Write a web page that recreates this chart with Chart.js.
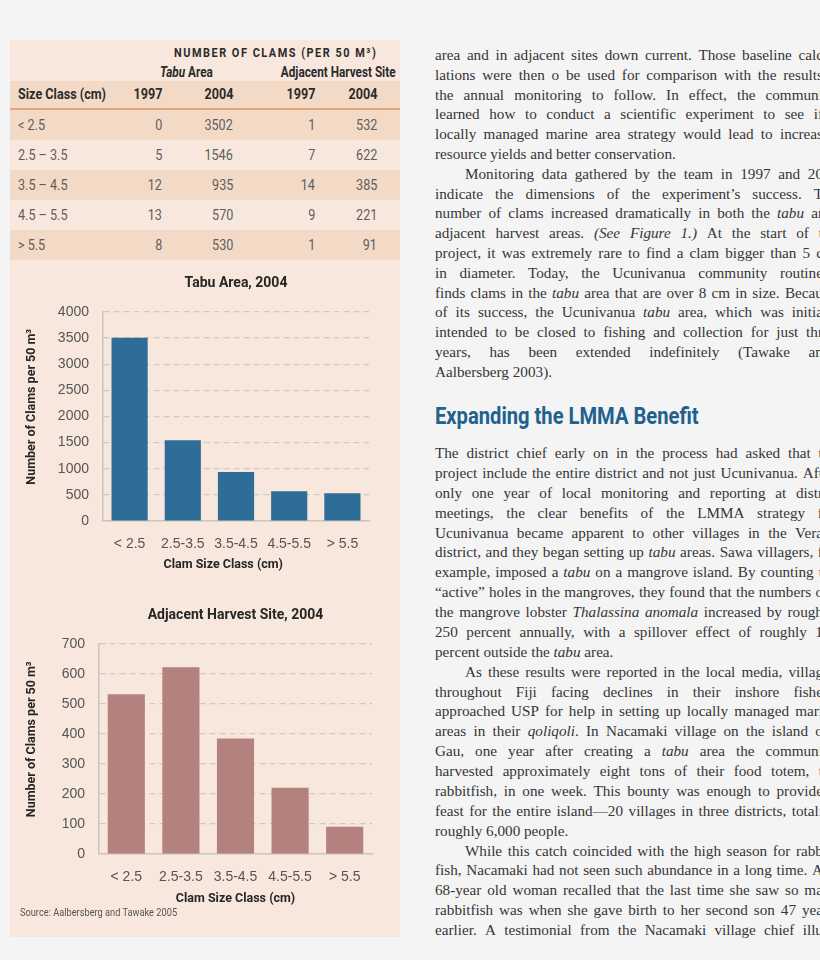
<!DOCTYPE html>
<html lang="en">
<head>
  <meta charset="UTF-8" />
  <title>Number of Clams (per 50 m³)</title>
  <script src="https://cdn.jsdelivr.net/npm/chart.js"></script>
  <style>
    :root {
      --panel: #f8e7dc;
      --band: #f3dac7;
    }
    * { margin: 0; padding: 0; box-sizing: border-box; }
    body {
      width: 820px;
      height: 960px;
      overflow: hidden;
      position: relative;
      background: #f4f4f4;
      font-family: Roboto, "Liberation Sans", sans-serif;
    }
    .panel {
      position: absolute;
      left: 10px; top: 40px;
      width: 390px; height: 897px;
      background: var(--panel);
    }
    /* no condensed face installed, squeeze the text instead */
    .c { display: inline-block; transform: scaleX(0.84); white-space: nowrap; }
    .abs { position: absolute; white-space: nowrap; }
    .ttl {
      font-weight: bold;
      color: #2b2b2b;
      font-size: 13px;
      letter-spacing: 1.8px;
    }
    .sub { font-weight: bold; color: #2b2b2b; font-size: 14px; }
    .band { position: absolute; left: 0; width: 390px; }
    .cell {
      position: absolute;
      font-size: 15px;
      color: #5e5e5e;
      line-height: 30px;
      white-space: nowrap;
    }
    .hd { font-weight: bold; color: #2b2b2b; font-size: 15px; line-height: 27px; }
    .chartbox { position: absolute; left: 10px; width: 390px; }
    .source {
      position: absolute; left: 20px; top: 906px;
      font-size: 11px; color: #555;
    }
    .col {
      position: absolute;
      left: 435px;
      width: 388px;
      font-family: "Liberation Serif", "DejaVu Serif", serif;
      font-size: 15.2px;
      color: #363636;
    }
    .ln { display: flex; justify-content: space-between; gap: 0.22em; white-space: nowrap; }
    .ln.last { justify-content: flex-start; gap: 0.25em; }
    .ln.ind { padding-left: 30px; }
    h2 {
      position: absolute;
      left: 435px; top: 402px;
      font-size: 24px;
      color: #22608d;
      white-space: nowrap;
    }
  </style>
</head>
<body>
  <div class="panel" id="panel">
    <div class="abs ttl" style="left:164px; top:5px;"><span class="c" style="transform-origin:left">NUMBER OF CLAMS (PER 50 M³)</span></div>
    <div class="abs sub" style="left:150px; top:24px;"><span class="c" style="transform-origin:left"><i>Tabu</i> Area</span></div>
    <div class="abs sub" style="right:4px; top:24px;"><span class="c" style="transform-origin:right">Adjacent Harvest Site</span></div>
    <div id="table"></div>
  </div>

  <div class="chartbox" style="top:265px; height:320px;"><canvas id="chartTabu"></canvas></div>
  <div class="chartbox" style="top:597px; height:321px;"><canvas id="chartAdj"></canvas></div>
  <div class="source"><span class="c" style="transform-origin:left">Source: Aalbersberg and Tawake 2005</span></div>

  <div class="col" id="text1" style="top:45px; line-height:19.8px;"></div>
  <h2><span class="c" style="transform-origin:left">Expanding the LMMA Benefit</span></h2>
  <div class="col" id="text2" style="top:443px; line-height:19.875px;"></div>

  <script>
    // table + chart data
    const tableClasses = ['< 2.5', '2.5 – 3.5', '3.5 – 4.5', '4.5 – 5.5', '> 5.5'];
    const chartClasses = ['< 2.5', '2.5-3.5', '3.5-4.5', '4.5-5.5', '> 5.5'];
    const tabu1997 = [0, 5, 12, 13, 8];
    const tabu2004 = [3502, 1546, 935, 570, 530];
    const adj1997 = [1, 7, 14, 9, 1];
    const adj2004 = [532, 622, 385, 221, 91];

    const tabuMax = 4000, tabuStep = 500;
    const adjMax = 700, adjStep = 100;

    // ---- table ----
    const table = document.getElementById('table');
    const colRight = [152, 223, 305, 367];
    const sq = (t, o) => `<span class="c" style="transform-origin:${o}">${t}</span>`;
    let html = '<div class="band" style="top:41px;height:27px;background:var(--band)"></div>';
    html += '<div class="band" style="top:68px;height:2px;background:#e7a678"></div>';
    html += `<div class="cell hd" style="left:8px;top:41px">${sq('Size Class (cm)', 'left')}</div>`;
    ['1997', '2004', '1997', '2004'].forEach((h, j) => {
      html += `<div class="cell hd" style="right:${390 - colRight[j]}px;top:41px">${sq(h, 'right')}</div>`;
    });
    tableClasses.forEach((c, i) => {
      const top = 70 + i * 30;
      if (i % 2 === 0) html += `<div class="band" style="top:${top}px;height:30px;background:var(--band)"></div>`;
      html += `<div class="cell" style="left:8px;top:${top}px">${sq(c.replace('<', '&lt;'), 'left')}</div>`;
      [tabu1997[i], tabu2004[i], adj1997[i], adj2004[i]].forEach((v, j) => {
        html += `<div class="cell" style="right:${390 - colRight[j]}px;top:${top}px">${sq(v, 'right')}</div>`;
      });
    });
    table.innerHTML = html;

    // ---- charts ----
    const BOLD = 'Roboto, "Liberation Sans", sans-serif';
    const SANS = '"Liberation Sans", Arial, sans-serif';

    function barChart(id, title, values, max, step, color, axisW, padRight, xTitle, xTitlePad) {
      return new Chart(document.getElementById(id), {
        type: 'bar',
        data: {
          labels: chartClasses,
          datasets: [{
            data: values,
            backgroundColor: color,
            borderWidth: 0,
            barPercentage: 0.68,
            categoryPercentage: 1.0
          }]
        },
        options: {
          responsive: true,
          maintainAspectRatio: false,
          animation: false,
          layout: { padding: { left: 0, right: padRight, top: 0, bottom: 0 } },
          plugins: {
            legend: { display: false },
            tooltip: { enabled: false },
            title: {
              display: true,
              fullSize: false,
              text: title,
              color: '#262626',
              font: { family: BOLD, size: 14, weight: 'bold' },
              padding: { top: 10, bottom: 20 }
            }
          },
          scales: {
            x: {
              grid: { display: false },
              border: { display: true, color: '#c9c4bf', width: 1.5 },
              ticks: { color: '#555', font: { family: SANS, size: 14 }, padding: 7, maxRotation: 0 },
              title: {
                display: true,
                text: xTitle,
                color: '#262626',
                font: { family: BOLD, size: 12.5, weight: 'bold' },
                padding: { top: 0, bottom: xTitlePad }
              },
              afterFit: (s) => { s.height = 64; }
            },
            y: {
              min: 0,
              max: max,
              ticks: {
                stepSize: step,
                color: '#555',
                font: { family: SANS, size: 14 },
                padding: 14,
                callback: (v) => String(v)
              },
              grid: {
                drawTicks: false,
                lineWidth: 1.2,
                color: (ctx) => (ctx.tick && ctx.tick.value === 0 ? 'rgba(0,0,0,0)' : '#cfcac4')
              },
              border: { display: true, color: '#c9c4bf', width: 1.5, dash: [6, 4] },
              title: {
                display: true,
                text: '\u2003\u2002Number of Clams per 50 m³',
                color: '#262626',
                font: { family: BOLD, size: 12.5, weight: 'bold' },
                padding: { top: 14, bottom: 0 }
              },
              afterFit: (s) => { s.width = axisW; }
            }
          }
        }
      });
    }

    barChart('chartTabu', 'Tabu Area, 2004', tabu2004, tabuMax, tabuStep, '#2f6d99', 93, 31,
      'Clam Size Class (cm)\u2003\u2003', 13);
    barChart('chartAdj', 'Adjacent Harvest Site, 2004', adj2004, adjMax, adjStep, '#b3817e', 89, 28,
      'Clam Size Class (cm)', 12);

    // ---- body text (lines as printed; _word_ = italic, ^ = indent, $ = last line) ----
    const text1 = [
      'area and in adjacent sites down current. Those baseline calc',
      'lations were then o be used for comparison with the results',
      'the annual monitoring to follow. In effect, the communi',
      'learned how to conduct a scientific experiment to see if',
      'locally managed marine area strategy would lead to increas',
      '$resource yields and better conservation.',
      '^Monitoring data gathered by the team in 1997 and 20',
      'indicate the dimensions of the experiment’s success. T',
      'number of clams increased dramatically in both the _tabu_ ar',
      'adjacent harvest areas. _(See_ _Figure_ _1.)_ At the start of t',
      'project, it was extremely rare to find a clam bigger than 5 c',
      'in diameter. Today, the Ucunivanua community routine',
      'finds clams in the _tabu_ area that are over 8 cm in size. Becau',
      'of its success, the Ucunivanua _tabu_ area, which was initia',
      'intended to be closed to fishing and collection for just thr',
      'years, has been extended indefinitely (Tawake an',
      '$Aalbersberg 2003).'
    ];
    const text2 = [
      'The district chief early on in the process had asked that t',
      'project include the entire district and not just Ucunivanua. Aft',
      'only one year of local monitoring and reporting at distr',
      'meetings, the clear benefits of the LMMA strategy f',
      'Ucunivanua became apparent to other villages in the Vera',
      'district, and they began setting up _tabu_ areas. Sawa villagers, f',
      'example, imposed a _tabu_ on a mangrove island. By counting t',
      '“active” holes in the mangroves, they found that the numbers o',
      'the mangrove lobster _Thalassina_ _anomala_ increased by rough',
      '250 percent annually, with a spillover effect of roughly 1',
      '$percent outside the _tabu_ area.',
      '^As these results were reported in the local media, villag',
      'throughout Fiji facing declines in their inshore fishe',
      'approached USP for help in setting up locally managed mari',
      'areas in their _qoliqoli_. In Nacamaki village on the island o',
      'Gau, one year after creating a _tabu_ area the communi',
      'harvested approximately eight tons of their food totem, t',
      'rabbitfish, in one week. This bounty was enough to provide',
      'feast for the entire island—20 villages in three districts, totali',
      '$roughly 6,000 people.',
      '^While this catch coincided with the high season for rabb',
      'fish, Nacamaki had not seen such abundance in a long time. A',
      '68-year old woman recalled that the last time she saw so ma',
      'rabbitfish was when she gave birth to her second son 47 yea',
      'earlier. A testimonial from the Nacamaki village chief illu'
    ];

    function fillText(id, lines) {
      const box = document.getElementById(id);
      lines.forEach((raw) => {
        let cls = 'ln';
        let s = raw;
        if (s[0] === '^') { cls += ' ind'; s = s.slice(1); }
        if (s[0] === '$') { cls += ' last'; s = s.slice(1); }
        const div = document.createElement('div');
        div.className = cls;
        s.split(' ').forEach((w) => {
          const span = document.createElement('span');
          const m = w.match(/^_(.*)_(.*)$/);
          if (m) {
            const it = document.createElement('i');
            it.textContent = m[1];
            span.appendChild(it);
            span.appendChild(document.createTextNode(m[2]));
          } else {
            span.textContent = w;
          }
          div.appendChild(span);
        });
        box.appendChild(div);
      });
    }
    fillText('text1', text1);
    fillText('text2', text2);
  </script>
</body>
</html>
